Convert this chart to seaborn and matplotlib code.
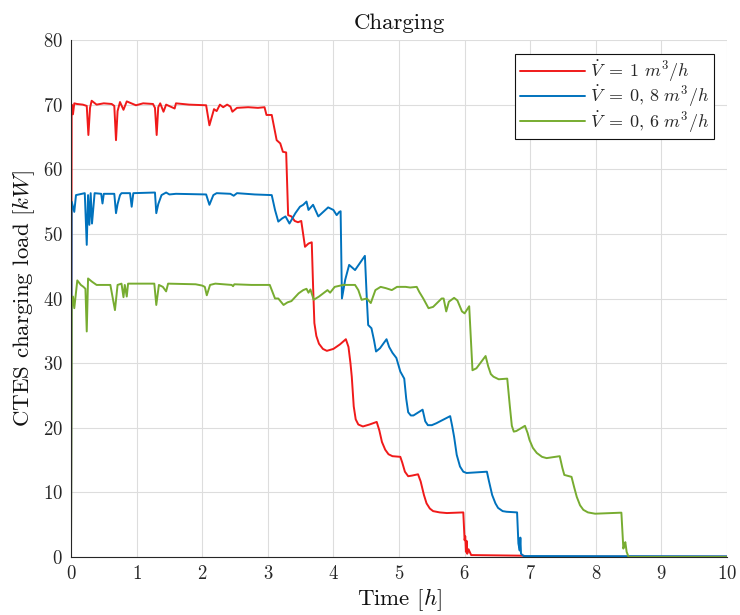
import numpy as np
import pandas as pd
import matplotlib
matplotlib.use("Agg")
import matplotlib.pyplot as plt
import seaborn as sns

# Flow-rate cases and their charging load traces (time in h, load in kW)
labels = [r"$\dot{V}\;=\;1\ m^3/h$", r"$\dot{V}\;=\;0,\,8\ m^3/h$", r"$\dot{V}\;=\;0,\,6\ m^3/h$"]
colors = ["#F01A1A", "#0072BD", "#77AC30"]

t_red = [0, 0.01, 0.03, 0.05, 0.09, 0.18, 0.24, 0.265, 0.29, 0.315, 0.39, 0.5, 0.62, 0.66, 0.686,
         0.71, 0.747, 0.8, 0.85, 0.99, 1.1, 1.25, 1.28, 1.306, 1.33, 1.36, 1.41, 1.45, 1.58, 1.6,
         1.8, 2.06, 2.11, 2.18, 2.22, 2.27, 2.32, 2.38, 2.43, 2.46, 2.53, 2.7, 2.85, 2.95, 2.98,
         3.06, 3.135, 3.19, 3.23, 3.28, 3.31, 3.36, 3.41, 3.46, 3.51, 3.567, 3.62, 3.67, 3.69,
         3.71, 3.74, 3.78, 3.84, 3.90, 4.0, 4.1, 4.19, 4.23, 4.26, 4.28, 4.31, 4.34, 4.38, 4.45,
         4.55, 4.66, 4.70, 4.74, 4.79, 4.84, 4.90, 5.02, 5.05, 5.09, 5.14, 5.20, 5.29, 5.33, 5.38,
         5.42, 5.47, 5.52, 5.62, 5.73, 5.98, 6.0, 6.01, 6.02, 6.03, 6.04, 6.06, 6.1,
         6.9, 6.95, 10]
v_red = [0, 70.0, 68.5, 70.2, 70.1, 70.0, 69.8, 65.3, 69.5, 70.6, 70.0, 70.2, 70.1, 69.8, 64.5,
         69.0, 70.4, 69.2, 70.5, 69.9, 70.2, 70.1, 69.5, 65.3, 69.6, 70.2, 68.9, 70.0, 69.4, 70.2,
         70.0, 69.9, 66.8, 69.3, 69.0, 70.0, 69.6, 70.0, 69.7, 68.9, 69.5, 69.6, 69.5, 69.6, 68.4,
         68.4, 64.5, 64.0, 62.7, 62.6, 52.9, 52.7, 52.0, 51.8, 52.0, 48.0, 48.5, 48.7, 42.0,
         36.2, 34.2, 33.0, 32.2, 31.9, 32.2, 32.9, 33.7, 32.5, 30.0, 27.9, 23.3, 21.3, 20.5, 20.2,
         20.5, 20.9, 19.6, 17.8, 16.6, 15.9, 15.6, 15.5, 14.6, 13.2, 12.5, 12.6, 12.8, 11.7, 9.6,
         8.3, 7.5, 7.1, 6.9, 6.8, 6.9, 2.6, 3.2, 0.8, 2.5, 0.5, 1.2, 0.3,
         0.2, 0.05, 0.05]

t_blue = [0, 0.01, 0.05, 0.076, 0.21, 0.24, 0.26, 0.28, 0.30, 0.32, 0.36, 0.46, 0.48, 0.50, 0.66,
          0.686, 0.71, 0.747, 0.77, 0.9, 0.925, 0.95, 1.28, 1.30, 1.33, 1.38, 1.45, 1.5, 1.6,
          2.06, 2.11, 2.17, 2.22, 2.43, 2.48, 2.53, 2.8, 3.06, 3.11, 3.16, 3.22, 3.27, 3.33, 3.42,
          3.49, 3.54, 3.59, 3.62, 3.69, 3.77, 3.92, 4.0, 4.05, 4.09, 4.11, 4.13, 4.18, 4.24, 4.33,
          4.48, 4.51, 4.53, 4.58, 4.62, 4.65, 4.71, 4.81, 4.85, 4.90, 4.96, 5.02, 5.08, 5.11, 5.14,
          5.18, 5.22, 5.36, 5.40, 5.44, 5.50, 5.57, 5.78, 5.81, 5.84, 5.88, 5.93, 5.98, 6.03, 6.34,
          6.37, 6.42, 6.47, 6.51, 6.58, 6.64, 6.80, 6.82, 6.84, 6.85, 6.86, 6.90, 10]
v_blue = [0, 55.0, 53.4, 56.0, 56.3, 48.3, 56.0, 51.4, 56.3, 51.6, 56.3, 56.2, 54.7, 56.2, 56.2,
          53.2, 54.6, 56.0, 56.3, 56.3, 54.2, 56.3, 56.4, 53.2, 54.6, 56.0, 56.4, 56.1, 56.2,
          56.1, 54.5, 56.0, 56.3, 56.2, 55.9, 56.3, 56.1, 56.0, 53.7, 51.9, 52.4, 52.7, 51.6, 53.2,
          54.2, 54.5, 55.0, 53.7, 54.5, 52.7, 54.1, 53.7, 52.9, 53.4, 53.5, 40.0, 42.9, 45.2, 44.4,
          46.6, 39.8, 35.9, 35.4, 33.5, 31.8, 32.3, 33.7, 32.5, 31.6, 30.8, 28.7, 27.6, 24.5, 22.4,
          21.9, 21.9, 22.8, 21.0, 20.4, 20.4, 20.7, 21.8, 20.3, 18.6, 15.8, 14.0, 13.2, 13.0, 13.2,
          11.8, 9.6, 8.3, 7.6, 7.1, 7.0, 6.9, 2.1, 1.0, 3.0, 0.5, 0.15, 0.1]

t_green = [0, 0.01, 0.03, 0.05, 0.096, 0.15, 0.19, 0.22, 0.24, 0.26, 0.32, 0.39, 0.6, 0.67, 0.71,
           0.77, 0.80, 0.82, 0.85, 0.87, 1.27, 1.30, 1.34, 1.40, 1.45, 1.48, 1.9, 2.0, 2.04, 2.07,
           2.12, 2.2, 2.45, 2.47, 2.49, 2.75, 3.03, 3.11, 3.16, 3.24, 3.30, 3.36, 3.47, 3.54, 3.59,
           3.62, 3.65, 3.70, 3.78, 3.91, 3.95, 4.02, 4.15, 4.33, 4.38, 4.43, 4.51, 4.57, 4.64,
           4.72, 4.80, 4.89, 4.97, 5.10, 5.17, 5.27, 5.31, 5.37, 5.45, 5.52, 5.65, 5.68, 5.72,
           5.76, 5.84, 5.89, 5.96, 6.0, 6.07, 6.12, 6.18, 6.32, 6.36, 6.40, 6.44, 6.52, 6.65, 6.69,
           6.72, 6.75, 6.79, 6.92, 6.96, 6.99, 7.04, 7.10, 7.18, 7.25, 7.45, 7.49, 7.52, 7.63, 7.67,
           7.71, 7.76, 7.81, 7.88, 7.99, 8.39, 8.42, 8.44, 8.45, 8.47, 8.5, 10]
v_green = [0, 38.5, 40.3, 38.5, 42.8, 42.1, 41.8, 41.5, 34.9, 43.1, 42.6, 42.1, 42.1, 38.2, 42.1,
           42.3, 40.2, 42.1, 40.3, 42.3, 42.3, 39.0, 42.1, 41.8, 41.1, 42.3, 42.2, 42.0, 41.8, 40.5,
           42.1, 42.3, 42.1, 41.9, 42.2, 42.1, 42.1, 40.0, 40.0, 39.0, 39.4, 39.6, 40.8, 41.3, 41.5,
           40.9, 41.4, 39.8, 40.3, 41.3, 40.9, 41.8, 42.1, 42.1, 41.3, 39.8, 40.0, 39.3, 41.3,
           41.8, 41.6, 41.3, 41.8, 41.8, 41.7, 41.8, 41.0, 40.0, 38.5, 38.7, 40.0, 40.0, 38.0,
           39.5, 40.1, 39.7, 38.0, 37.7, 38.8, 28.9, 29.2, 31.1, 29.5, 28.3, 27.9, 27.5, 27.6, 23.3,
           20.3, 19.4, 19.5, 20.3, 19.2, 18.1, 16.9, 16.1, 15.5, 15.3, 15.6, 13.8, 12.7, 12.4, 10.8,
           9.3, 8.0, 7.3, 6.9, 6.7, 6.86, 1.3, 2.0, 2.3, 0.8, 0.0, 0.0]

x_ticks = list(range(0, 11))
y_ticks = list(range(0, 81, 10))

frames = []
for lab, t, v in zip(labels, [t_red, t_blue, t_green], [v_red, v_blue, v_green]):
    frames.append(pd.DataFrame({"Time": t, "Load": v, "case": lab}))
df = pd.concat(frames, ignore_index=True)

sns.set_style("white")
plt.rcParams.update({
    "font.family": "serif",
    "font.serif": ["cmr10", "DejaVu Serif"],
    "mathtext.fontset": "cm",
    "axes.formatter.use_mathtext": True,
    "axes.unicode_minus": False,
})

fig = plt.figure(figsize=(7.4, 6.15), dpi=100)
ax = fig.add_axes([71 / 740, 1 - 557 / 615, (727 - 71) / 740, (557 - 40) / 615])

sns.lineplot(data=df, x="Time", y="Load", hue="case", palette=dict(zip(labels, colors)),
             estimator=None, sort=False, linewidth=1.4, ax=ax, legend=False)

ax.set_xlim(0, 10)
ax.set_ylim(0, 80)
ax.set_xticks(x_ticks)
ax.set_yticks(y_ticks)
ax.grid(True, color="#DDDDDD", linewidth=0.8)
ax.set_axisbelow(True)

spine_col = "#262626"
for side in ["top", "right"]:
    ax.spines[side].set_visible(False)
for side in ["left", "bottom"]:
    ax.spines[side].set_color(spine_col)
    ax.spines[side].set_linewidth(0.8)
ax.tick_params(direction="in", length=5, width=0.8, color=spine_col,
               labelsize=13.5, labelcolor="#262626", pad=6)

ax.set_title("Charging", fontsize=16.5, color="#111111", pad=8)
ax.set_xlabel(r"Time $[h]$", fontsize=16.5, color="#111111", labelpad=2)
ax.set_ylabel(r"CTES charging load $[kW]$", fontsize=16.5, color="#111111", labelpad=4)

handles = [plt.Line2D([], [], color=c, linewidth=1.4) for c in colors]
leg = ax.legend(handles, labels, loc="upper right", bbox_to_anchor=(0.98, 0.972),
                fontsize=13, frameon=True, fancybox=False, framealpha=1,
                edgecolor="#111111", handlelength=3.6, handletextpad=0.3,
                borderpad=0.25, labelspacing=0.0, borderaxespad=0.0)
leg.get_frame().set_linewidth(0.8)

fig.savefig("out.png", dpi=100)
